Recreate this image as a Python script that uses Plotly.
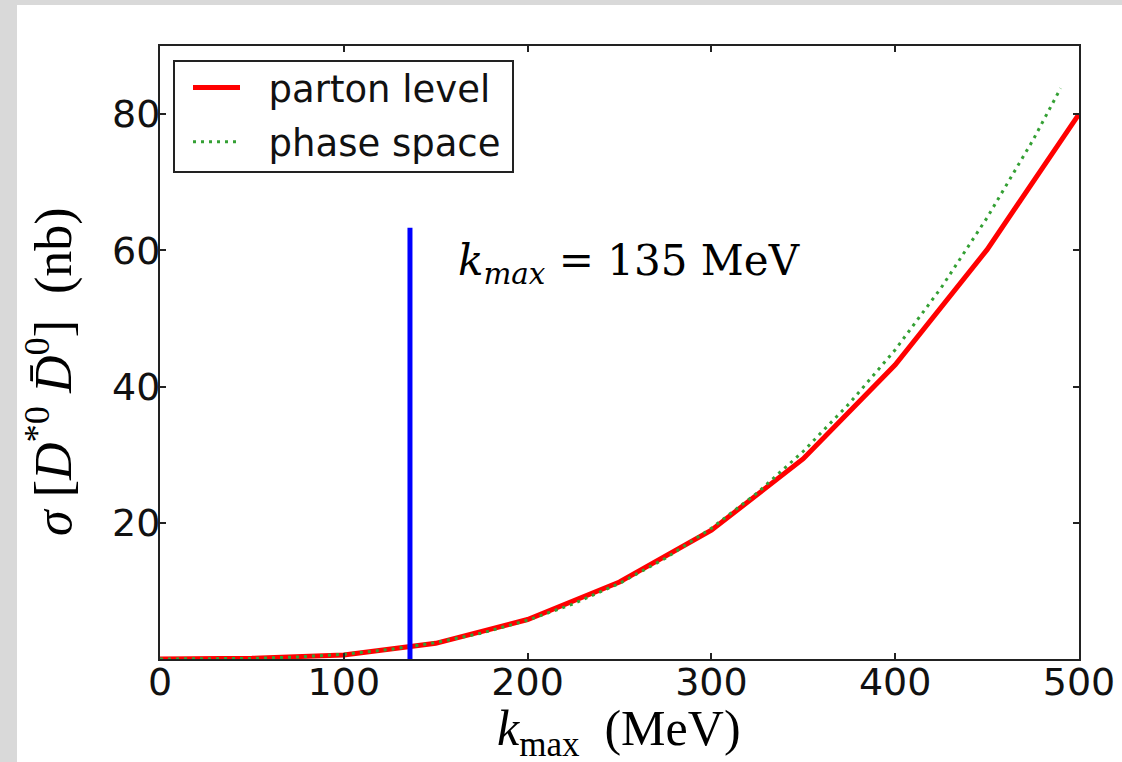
import plotly.graph_objects as go

# ---- data ----
k_parton = [0, 50, 100, 150, 200, 250, 300, 350, 400, 450, 500]
sigma_parton = [0.0, 0.1, 0.6, 2.3, 5.8, 11.3, 18.9, 29.4, 43.2, 60.1, 80.0]

k_phase = [0, 25, 50, 75, 100, 125, 150, 175, 200, 225, 250, 275, 300,
           325, 350, 375, 400, 425, 450, 475, 490]
sigma_phase = [0.0, 0.01, 0.09, 0.3, 0.7, 1.4, 2.4, 3.8, 5.7, 8.1, 11.1, 14.8, 19.2,
               24.4, 30.5, 37.5, 45.4, 54.5, 64.8, 76.2, 83.8]

k_marker = [136, 136]
sigma_marker = [0, 63.3]

x_ticks = [0, 100, 200, 300, 400, 500]
y_ticks = [20, 40, 60, 80]

W, H = 1122, 762
L, R, T, B = 160, 43, 46, 103
pw, ph = W - L - R, H - T - B

def px_x(p):
    return (p - L) / pw

def px_y(p):
    return (H - B - p) / ph

NB = "\u00a0"

fig = go.Figure()
fig.add_trace(go.Scatter(x=k_parton, y=sigma_parton, mode="lines",
                         name=NB * 2 + "parton level", legendgroup="a",
                         line=dict(color="#ff0000", width=5)))
fig.add_trace(go.Scatter(x=k_phase, y=sigma_phase, mode="lines",
                         name=NB * 2 + "phase space", legendgroup="b",
                         line=dict(color="#34a034", width=3, dash="3px,5px")))
fig.add_trace(go.Scatter(x=k_marker, y=sigma_marker, mode="lines", showlegend=False,
                         line=dict(color="#0000ff", width=5)))

axis_common = dict(showline=True, linecolor="#222222", linewidth=2, mirror="ticks",
                   ticks="inside", ticklen=6, tickwidth=1.5, tickcolor="#222222",
                   showgrid=False, zeroline=False,
                   tickfont=dict(family="DejaVu Sans", size=38, color="#111111"))

fig.update_xaxes(range=[0, 500], tickvals=x_ticks, ticktext=[str(v) for v in x_ticks],
                 ticklabelstandoff=-12, **axis_common)
fig.update_yaxes(range=[0, 90], tickvals=y_ticks, ticktext=[str(v) for v in y_ticks],
                 ticklabelstandoff=-10, **axis_common)

serif = "Liberation Serif"
fig.update_layout(
    width=W, height=H,
    margin=dict(l=L, r=R, t=T, b=B, autoexpand=False),
    paper_bgcolor="#d9d9d9", plot_bgcolor="white",
    showlegend=True,
    legend=dict(x=px_x(188), y=px_y(57), xanchor="left", yanchor="top",
                bgcolor="rgba(0,0,0,0)", borderwidth=0,
                font=dict(family="DejaVu Sans", size=37, color="#111111"),
                itemwidth=47, traceorder="grouped", tracegroupgap=3),
    shapes=[
        dict(type="rect", xref="paper", yref="paper", layer="below",
             x0=px_x(17), x1=px_x(W + 5), y0=px_y(H + 5), y1=px_y(5),
             fillcolor="white", line=dict(width=0)),
        dict(type="rect", xref="paper", yref="paper", layer="above",
             x0=px_x(174), x1=px_x(513), y0=px_y(172), y1=px_y(61),
             fillcolor="white", line=dict(color="#222222", width=2)),
    ],
    annotations=[
        dict(text="<i>k</i><sub><i>max</i></sub> = 135 MeV", xref="paper", yref="paper",
             x=px_x(456), y=px_y(263), xanchor="left", yanchor="middle", showarrow=False,
             font=dict(family="DejaVu Serif", size=42, color="black")),
        dict(text="<i>k</i><sub>max</sub>" + NB * 2 + "(MeV)", xref="paper", yref="paper",
             x=px_x(619), y=px_y(732), xanchor="center", yanchor="middle", showarrow=False,
             font=dict(family=serif, size=50, color="black")),
        dict(text="<i>σ</i>" + NB + "[<i>D</i><sup>*0</sup>" + NB + "<i>D̄</i><sup>0</sup>]" + NB * 2 + "(nb)",
             xref="paper", yref="paper", textangle=-90,
             x=px_x(50), y=px_y(372), xanchor="center", yanchor="middle", showarrow=False,
             font=dict(family=serif, size=52, color="black")),
    ],
)

fig.write_html("out.html", config={"displayModeBar": False},
               post_script="document.body.style.margin='0';document.body.style.overflow='hidden';")
